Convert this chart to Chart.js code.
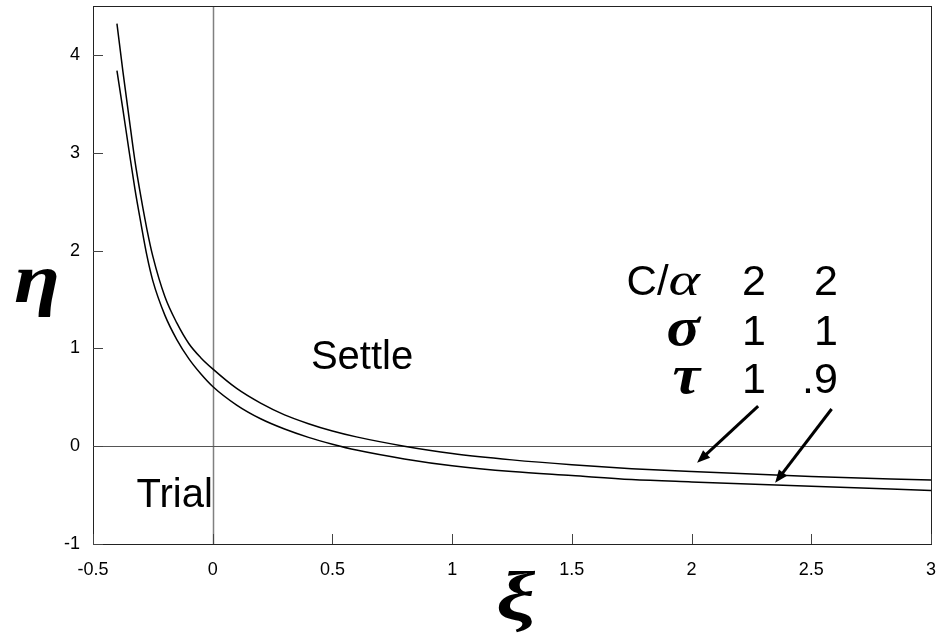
<!DOCTYPE html>
<html>
<head>
<meta charset="utf-8">
<script src="https://cdn.jsdelivr.net/npm/chart.js@4/dist/chart.umd.min.js"></script>
<style>
  html, body { margin: 0; padding: 0; background: #fff; }
</style>
</head>
<body>
<canvas id="chart" width="939" height="634"></canvas>
<script>
const xiValues = [-0.4, -0.375, -0.35, -0.325, -0.3, -0.275, -0.25, -0.2, -0.15, -0.1, -0.05, 0,
  0.1, 0.2, 0.3, 0.4, 0.5, 0.6, 0.8, 1.0, 1.25, 1.5, 1.75, 2.0, 2.5, 3.0];
// tau = 1 (upper curve)
const etaTau1 = [4.32, 3.83, 3.37, 2.92, 2.55, 2.22, 1.94, 1.53, 1.26, 1.05, 0.905, 0.79,
  0.59, 0.44, 0.32, 0.23, 0.155, 0.095, 0.0, -0.075, -0.14, -0.19, -0.23, -0.26, -0.31, -0.347];
// tau = .9 (lower curve)
const etaTau09 = [3.84, 3.44, 3.03, 2.63, 2.28, 1.95, 1.69, 1.34, 1.09, 0.895, 0.74, 0.61,
  0.42, 0.28, 0.175, 0.09, 0.02, -0.04, -0.13, -0.20, -0.26, -0.30, -0.34, -0.365, -0.41, -0.452];

const xTicks = [-0.5, 0, 0.5, 1, 1.5, 2, 2.5, 3];
const yTicks = [-1, 0, 1, 2, 3, 4];

const tableRows = [
  { label: 'C/', greek: '\u03b1', vals: ['2', '2'] },
  { label: '', greek: '\u03c3', vals: ['1', '1'] },
  { label: '', greek: '\u03c4', vals: ['1', '.9'] }
];

const sansFont = '"Liberation Sans", Arial, sans-serif';
const greekFont = '"Liberation Serif", "DejaVu Serif", serif';

function toPoints(ys) {
  return xiValues.map((x, i) => ({ x: x, y: ys[i] }));
}

// right-aligned text with a horizontal stretch
function stretchedRight(ctx, text, x, y, sx) {
  ctx.save();
  ctx.translate(x, y);
  ctx.scale(sx, 1);
  ctx.textAlign = 'right';
  ctx.fillText(text, 0, 0);
  ctx.restore();
  return ctx.measureText(text).width * sx;
}

function drawArrow(ctx, x1, y1, x2, y2) {
  const ang = Math.atan2(y2 - y1, x2 - x1);
  const head = 14;
  ctx.beginPath();
  ctx.moveTo(x1, y1);
  ctx.lineTo(x2 - Math.cos(ang) * head * 0.7, y2 - Math.sin(ang) * head * 0.7);
  ctx.lineWidth = 3;
  ctx.stroke();
  ctx.beginPath();
  ctx.moveTo(x2, y2);
  ctx.lineTo(x2 - head * Math.cos(ang - 0.38), y2 - head * Math.sin(ang - 0.38));
  ctx.lineTo(x2 - head * Math.cos(ang + 0.38), y2 - head * Math.sin(ang + 0.38));
  ctx.closePath();
  ctx.fill();
}

function noPad(s) {
  s.paddingLeft = 0;
  s.paddingRight = 0;
  s.paddingTop = 0;
  s.paddingBottom = 0;
}

const framePlugin = {
  id: 'frame',
  beforeDatasetsDraw(chart) {
    const { ctx, chartArea: a, scales: { x, y } } = chart;
    ctx.save();
    // zero lines
    ctx.strokeStyle = '#808080';
    ctx.lineWidth = 1.5;
    ctx.beginPath();
    ctx.moveTo(Math.round(x.getPixelForValue(0)) + 0.5, a.top);
    ctx.lineTo(Math.round(x.getPixelForValue(0)) + 0.5, a.bottom);
    ctx.stroke();
    ctx.strokeStyle = '#555';
    ctx.lineWidth = 1;
    ctx.beginPath();
    ctx.moveTo(a.left, Math.round(y.getPixelForValue(0)) + 0.5);
    ctx.lineTo(a.right, Math.round(y.getPixelForValue(0)) + 0.5);
    ctx.stroke();
    ctx.restore();
  },
  afterDraw(chart) {
    const { ctx, chartArea: a, scales: { x, y } } = chart;
    ctx.save();
    // frame
    ctx.strokeStyle = '#222';
    ctx.lineWidth = 1;
    ctx.strokeRect(Math.round(a.left) + 0.5, Math.round(a.top) + 0.5,
      Math.round(a.right - a.left), Math.round(a.bottom - a.top));
    // inward ticks
    ctx.strokeStyle = '#444';
    ctx.beginPath();
    xTicks.forEach(v => {
      const px = Math.round(x.getPixelForValue(v)) + 0.5;
      ctx.moveTo(px, a.bottom);
      ctx.lineTo(px, a.bottom - 10);
    });
    yTicks.forEach(v => {
      const py = Math.round(y.getPixelForValue(v)) + 0.5;
      ctx.moveTo(a.left, py);
      ctx.lineTo(a.left + 10, py);
    });
    ctx.stroke();

    // axis titles
    ctx.fillStyle = '#000';
    ctx.textAlign = 'center';
    ctx.textBaseline = 'alphabetic';
    ctx.font = 'italic bold 70px ' + greekFont;
    ctx.save();
    ctx.translate(37, 302);
    ctx.scale(1.2, 1);
    ctx.fillText('\u03b7', 0, 0);
    ctx.restore();
    ctx.save();
    ctx.translate(516, 620);
    ctx.scale(1.25, 1);
    ctx.fillText('\u03be', 0, 0);
    ctx.restore();

    // region labels
    ctx.font = '40px ' + sansFont;
    ctx.textAlign = 'left';
    ctx.fillText('Settle', x.getPixelForValue(0.41), y.getPixelForValue(0.79));
    ctx.fillText('Trial', x.getPixelForValue(-0.318), y.getPixelForValue(-0.62));

    // parameter table (value columns right-aligned)
    const rowY = [1.545, 1.035, 0.545];
    const colRight = [2.311, 2.611];
    tableRows.forEach((r, i) => {
      const py = y.getPixelForValue(rowY[i]);
      const right = x.getPixelForValue(2.035);
      if (r.label) {
        ctx.font = 'italic 46px ' + greekFont;
        const gw = stretchedRight(ctx, r.greek, right, py, 1.3);
        ctx.font = '42px ' + sansFont;
        stretchedRight(ctx, r.label, right - gw, py, 1.0);
      } else {
        ctx.font = 'italic bold 54px ' + greekFont;
        stretchedRight(ctx, r.greek, right, py, 1.15);
      }
      ctx.font = '43px ' + sansFont;
      ctx.textAlign = 'right';
      r.vals.forEach((v, j) => ctx.fillText(v, x.getPixelForValue(colRight[j]), py));
    });

    // arrows
    ctx.strokeStyle = '#000';
    ctx.fillStyle = '#000';
    drawArrow(ctx, x.getPixelForValue(2.278), y.getPixelForValue(0.41),
      x.getPixelForValue(2.023), y.getPixelForValue(-0.17));
    drawArrow(ctx, x.getPixelForValue(2.585), y.getPixelForValue(0.38),
      x.getPixelForValue(2.349), y.getPixelForValue(-0.375));
    ctx.restore();
  }
};

new Chart(document.getElementById('chart'), {
  type: 'scatter',
  data: {
    datasets: [
      { label: 'tau 1', data: toPoints(etaTau1), showLine: true, borderColor: '#000',
        borderWidth: 1.5, pointRadius: 0, cubicInterpolationMode: 'monotone', fill: false },
      { label: 'tau .9', data: toPoints(etaTau09), showLine: true, borderColor: '#000',
        borderWidth: 1.5, pointRadius: 0, cubicInterpolationMode: 'monotone', fill: false }
    ]
  },
  options: {
    responsive: false,
    animation: false,
    layout: { padding: { top: 6, right: 8, left: 0, bottom: 0 } },
    plugins: { legend: { display: false }, tooltip: { enabled: false } },
    scales: {
      x: {
        type: 'linear', min: -0.5, max: 3,
        afterBuildTicks: s => { s.ticks = xTicks.map(v => ({ value: v })); },
        afterFit: s => { s.height = 90; noPad(s); },
        grid: { display: false, drawTicks: false },
        border: { display: false },
        ticks: { color: '#000', padding: 15, font: { family: sansFont, size: 18 },
          maxRotation: 0, autoSkip: false, callback: v => String(v) }
      },
      y: {
        type: 'linear', min: -1, max: 4.5,
        afterBuildTicks: s => { s.ticks = yTicks.map(v => ({ value: v })); },
        afterFit: s => { s.width = 93; noPad(s); },
        grid: { display: false, drawTicks: false },
        border: { display: false },
        ticks: { color: '#000', padding: 13, font: { family: sansFont, size: 18 },
          autoSkip: false, callback: v => String(v) }
      }
    }
  },
  plugins: [framePlugin]
});
</script>
</body>
</html>
